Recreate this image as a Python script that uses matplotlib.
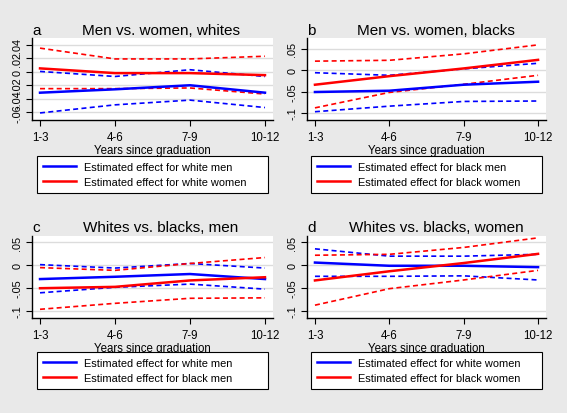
import matplotlib.pyplot as plt
from matplotlib.lines import Line2D

plt.rcParams['font.family'] = ['Liberation Sans', 'DejaVu Sans']

x_labels = ['1-3', '4-6', '7-9', '10-12']
x = [1, 2, 3, 4]

# estimates and confidence bounds
white_men = [-0.031, -0.026, -0.020, -0.031]
white_men_hi = [0.0005, -0.007, 0.003, -0.007]
white_men_lo = [-0.061, -0.049, -0.042, -0.053]

white_women = [0.005, -0.002, -0.002, -0.005]
white_women_hi = [0.035, 0.019, 0.019, 0.023]
white_women_lo = [-0.025, -0.025, -0.024, -0.033]

black_men = [-0.051, -0.048, -0.034, -0.027]
black_men_hi = [-0.006, -0.012, 0.003, 0.016]
black_men_lo = [-0.097, -0.084, -0.073, -0.072]

black_women = [-0.034, -0.014, 0.004, 0.024]
black_women_hi = [0.021, 0.023, 0.038, 0.059]
black_women_lo = [-0.088, -0.052, -0.033, -0.012]

W, H = 567, 414
BG = '#e9e9e9'

fig = plt.figure(figsize=(W / 100, H / 100), dpi=100, facecolor=BG)


def px_axes(left, top, right, bottom):
    return fig.add_axes([left / W, 1 - bottom / H, (right - left) / W, (bottom - top) / H])


panels = [
    # letter, title, box (l, t, r, b), ylim, yticks, ytick labels, blue, red, names
    ('a', 'Men vs. women, whites', (32, 39, 273, 120.7), (-0.071, 0.05),
     [-0.06, -0.04, -0.02, 0, 0.02, 0.04], ['-.06', '-.04', '-.02', '0', '.02', '.04'],
     (white_men, white_men_hi, white_men_lo), (white_women, white_women_hi, white_women_lo),
     ('Estimated effect for white men', 'Estimated effect for white women')),
    ('b', 'Men vs. women, blacks', (307, 39, 546, 120.7), (-0.1156, 0.075),
     [-0.1, -0.05, 0, 0.05], ['-.1', '-.05', '0', '.05'],
     (black_men, black_men_hi, black_men_lo), (black_women, black_women_hi, black_women_lo),
     ('Estimated effect for black men', 'Estimated effect for black women')),
    ('c', 'Whites vs. blacks, men', (32, 237, 273, 319), (-0.116, 0.063),
     [-0.1, -0.05, 0, 0.05], ['-.1', '-.05', '0', '.05'],
     (white_men, white_men_hi, white_men_lo), (black_men, black_men_hi, black_men_lo),
     ('Estimated effect for white men', 'Estimated effect for black men')),
    ('d', 'Whites vs. blacks, women', (307, 237, 546, 319), (-0.116, 0.063),
     [-0.1, -0.05, 0, 0.05], ['-.1', '-.05', '0', '.05'],
     (white_women, white_women_hi, white_women_lo), (black_women, black_women_hi, black_women_lo),
     ('Estimated effect for white women', 'Estimated effect for black women')),
]

for letter, title, box, ylim, yticks, ylabels, blue, red, names in panels:
    l, t, r, b = box
    ax = px_axes(l, t, r, b)
    ax.set_facecolor('white')
    for sp in ['top', 'right']:
        ax.spines[sp].set_visible(False)
    for sp in ['left', 'bottom']:
        ax.spines[sp].set_color('black')
        ax.spines[sp].set_linewidth(1.0)

    for yt in yticks:
        ax.axhline(yt, color='#dcdcdc', lw=1.0, zorder=0)

    for col, (est, hi, lo) in (('blue', blue), ('red', red)):
        ax.plot(x, hi, color=col, lw=1.2, ls=(0, (3, 2)))
        ax.plot(x, lo, color=col, lw=1.2, ls=(0, (3, 2)))
    ax.plot(x, blue[0], color='blue', lw=1.8)
    ax.plot(x, red[0], color='red', lw=1.8)

    ax.set_xlim(0.893, 4.107)
    ax.set_ylim(*ylim)
    ax.set_xticks(x)
    ax.set_xticklabels(x_labels, fontsize=8.3)
    ax.set_yticks(yticks)
    ax.set_yticklabels(ylabels, fontsize=7.8, rotation=90, va='center')
    ax.tick_params(length=4, width=0.8)
    ax.tick_params(axis='x', pad=4)
    ax.tick_params(axis='y', pad=3)
    ax.set_xlabel('Years since graduation', fontsize=8.3, labelpad=1)

    cx = 161 if l < 100 else 436
    ty = 31 if t < 100 else 228
    fig.text(l / W, 1 - ty / H, letter, fontsize=11, va='center', ha='left')
    fig.text(cx / W, 1 - ty / H, title, fontsize=11, va='center', ha='center')

    lx0 = 37 if l < 100 else 311
    lx1 = 268 if l < 100 else 542
    ltop = 157 if t < 100 else 353
    handles = [Line2D([], [], color='blue', lw=1.8), Line2D([], [], color='red', lw=1.8)]
    leg = fig.legend(handles, names, loc='upper left',
                     bbox_to_anchor=(lx0 / W, 1 - ltop / H - 0.01, (lx1 - lx0) / W, 0.01),
                     mode='expand', fontsize=7.9, handlelength=3.0, handletextpad=0.7,
                     borderpad=0.55, labelspacing=0.45, borderaxespad=0,
                     fancybox=False, frameon=True, framealpha=1)
    leg.get_frame().set_edgecolor('black')
    leg.get_frame().set_linewidth(0.8)

fig.savefig('out.png', dpi=100, facecolor=BG)
